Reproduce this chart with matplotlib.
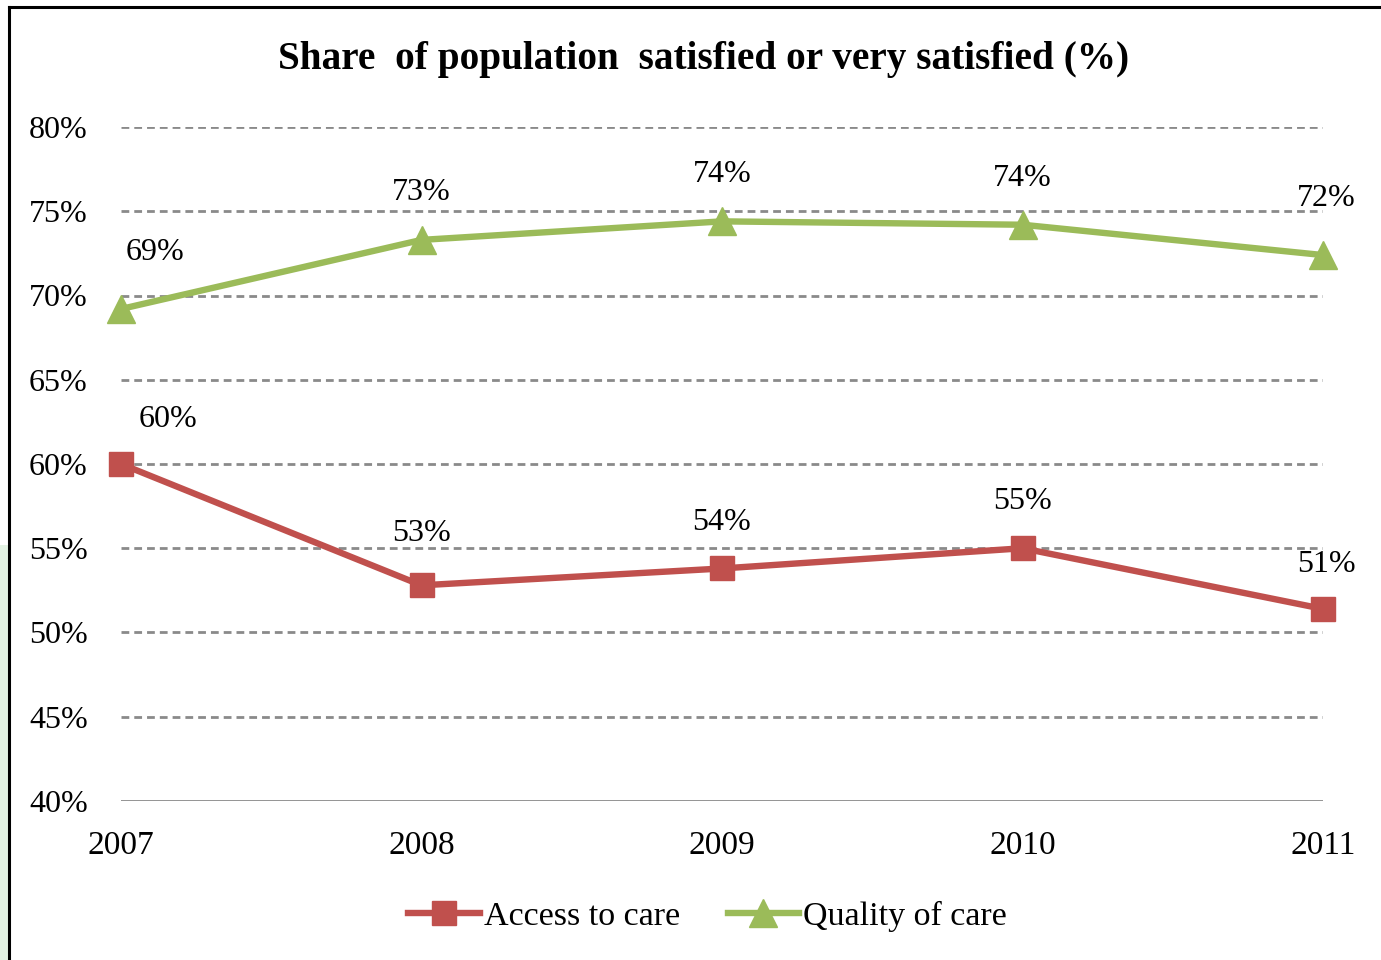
import matplotlib.pyplot as plt
from matplotlib.lines import Line2D
from matplotlib.patches import Rectangle

years = [2007, 2008, 2009, 2010, 2011]
access = [60.0, 52.8, 53.8, 55.0, 51.4]
quality = [69.2, 73.3, 74.4, 74.2, 72.4]
yticks = [40, 45, 50, 55, 60, 65, 70, 75, 80]

RED = "#C0504D"
GREEN = "#9BBB59"

plt.rcParams["font.family"] = ["Liberation Serif", "DejaVu Serif"]

fig = plt.figure(figsize=(13.81, 9.6), dpi=100)
ax = fig.add_axes([121 / 1381, 1 - 801 / 960, 1202 / 1381, 674 / 960])

for y in yticks[1:]:
    ax.axhline(y, color="#8a8a8a", lw=2.0, ls=(0, (2.8, 1.8)), zorder=1)
ax.axhline(40, color="#8a8a8a", lw=2.0, zorder=1)

ax.plot(years, access, color=RED, lw=4.6, marker="s", ms=17.5,
        label="Access to care", zorder=3, clip_on=False)
ax.plot(years, quality, color=GREEN, lw=4.6, marker="^", ms=20,
        label="Quality of care", zorder=3, clip_on=False)

# label offsets in pixels (dx, dy)
acc_off = [(47, 44), (0, 52), (0, 46), (0, 47), (3, 44)]
qual_off = [(34, 56), (0, 47), (0, 47), (0, 46), (3, 57)]
for x, v, (dx, dy) in zip(years, access, acc_off):
    ax.annotate(f"{v:.0f}%", (x, v), xytext=(dx * 0.72, dy * 0.72),
                textcoords="offset points", ha="center", va="center", fontsize=23)
for x, v, (dx, dy) in zip(years, quality, qual_off):
    ax.annotate(f"{v:.0f}%", (x, v), xytext=(dx * 0.72, dy * 0.72),
                textcoords="offset points", ha="center", va="center", fontsize=23)

ax.set_xlim(2007, 2011)
ax.set_ylim(40, 80)
ax.set_xticks(years)
ax.set_yticks(yticks)
ax.set_yticklabels([f"{t}%" for t in yticks])
ax.tick_params(length=0)
ax.tick_params(axis="y", pad=24, labelsize=23)
ax.tick_params(axis="x", pad=21, labelsize=24)
for s in ax.spines.values():
    s.set_visible(False)

fig.text(704 / 1381, 1 - 60 / 960, "Share  of population  satisfied or very satisfied (%)",
         ha="center", va="center", fontsize=28.3, fontweight="bold")

fig.legend(loc="center", bbox_to_anchor=(0.5125, 1 - 916 / 960), ncol=2, frameon=False,
           fontsize=24.5, handlelength=2.1, handletextpad=0.12, columnspacing=1.4)

# chart frame and left-edge shading
fig.add_artist(Rectangle((0, 0), 9 / 1381, 1 - 545 / 960, transform=fig.transFigure,
                         color="#e3f2e3", lw=0, zorder=0))
fig.add_artist(Line2D([9 / 1381, 1], [1 - 7 / 960] * 2, transform=fig.transFigure,
                      color="black", lw=2.2))
fig.add_artist(Line2D([9 / 1381] * 2, [0, 1 - 7 / 960], transform=fig.transFigure,
                      color="black", lw=2.2))

fig.savefig("out.png", dpi=100)
